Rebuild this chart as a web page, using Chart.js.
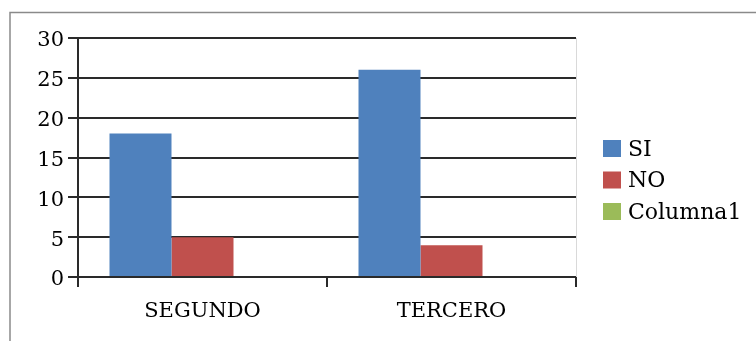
<!DOCTYPE html>
<html>
<head>
<meta charset="utf-8">
<script src="https://cdn.jsdelivr.net/npm/chart.js@4.4.1/dist/chart.umd.min.js"></script>
<style>
html,body{margin:0;padding:0;background:#fff;}
#wrap{position:absolute;left:0;top:0;width:756px;height:341px;}
</style>
</head>
<body>
<div id="wrap"><canvas id="c" width="756" height="341"></canvas></div>
<script>
const categories = ['SEGUNDO', 'TERCERO'];
const seriesNames = ['SI', 'NO', 'Columna1'];
const siValues = [18, 26];
const noValues = [5, 4];
const columna1Values = [null, null];
const seriesColors = ['#4F81BD', '#C0504D', '#9BBB59'];
const yTicks = [0, 5, 10, 15, 20, 25, 30];

const FONT = '"DejaVu Serif", "Liberation Serif", serif';
const DARK = '#2a2a2a';

const framePlugin = {
  id: 'frame',
  beforeDraw(chart) {
    const ctx = chart.ctx;
    ctx.save();
    ctx.fillStyle = '#fff';
    ctx.fillRect(0, 0, chart.width, chart.height);
    ctx.strokeStyle = '#8a8a8a';
    ctx.lineWidth = 1.5;
    ctx.beginPath();
    ctx.moveTo(10, 341);
    ctx.lineTo(10, 12.5);
    ctx.lineTo(756, 12.5);
    ctx.stroke();
    ctx.restore();
  },
  beforeDatasetsDraw(chart) {
    const a = chart.chartArea, ctx = chart.ctx;
    ctx.save();
    ctx.strokeStyle = '#d9d9d9';
    ctx.lineWidth = 1;
    ctx.beginPath();
    ctx.moveTo(a.right + 0.5, a.top);
    ctx.lineTo(a.right + 0.5, a.bottom);
    ctx.stroke();
    ctx.restore();
  },
  afterDraw(chart) {
    const ctx = chart.ctx;
    ctx.save();
    ctx.font = '22px ' + FONT;
    ctx.textBaseline = 'middle';
    ctx.textAlign = 'left';
    chart.data.datasets.forEach((ds, i) => {
      const y = 140 + i * 31.5;
      ctx.fillStyle = ds.backgroundColor;
      ctx.fillRect(603, y, 18, 17);
      ctx.fillStyle = '#000';
      ctx.fillText(ds.label, 628, y + 10);
    });
    ctx.restore();
  }
};

new Chart(document.getElementById('c'), {
  type: 'bar',
  data: {
    labels: categories,
    datasets: [
      { label: seriesNames[0], data: siValues, backgroundColor: seriesColors[0] },
      { label: seriesNames[1], data: noValues, backgroundColor: seriesColors[1] },
      { label: seriesNames[2], data: columna1Values, backgroundColor: seriesColors[2] }
    ]
  },
  options: {
    responsive: false,
    animation: false,
    devicePixelRatio: 1,
    layout: { padding: { left: 0, top: 38, right: 180, bottom: 0 } },
    plugins: { legend: { display: false }, tooltip: { enabled: false } },
    datasets: { bar: { categoryPercentage: 0.747, barPercentage: 1, borderWidth: 0 } },
    scales: {
      x: {
        afterFit(s) { s.height = 64; },
        grid: { display: true, drawOnChartArea: false, drawTicks: true, tickLength: 10, color: DARK, lineWidth: 2, offset: true },
        border: { display: true, color: DARK, width: 2 },
        ticks: { color: '#000', font: { family: FONT, size: 21 }, padding: 12 }
      },
      y: {
        min: 0, max: 30,
        afterFit(s) { s.width = 78; },
        afterBuildTicks(s) { s.ticks = yTicks.map(v => ({ value: v })); },
        grid: { color: DARK, lineWidth: 2, tickLength: 10, drawTicks: true },
        border: { display: true, color: DARK, width: 2 },
        ticks: { color: '#000', font: { family: FONT, size: 21 }, padding: 4, labelOffset: 3 }
      }
    }
  },
  plugins: [framePlugin]
});
</script>
</body>
</html>
